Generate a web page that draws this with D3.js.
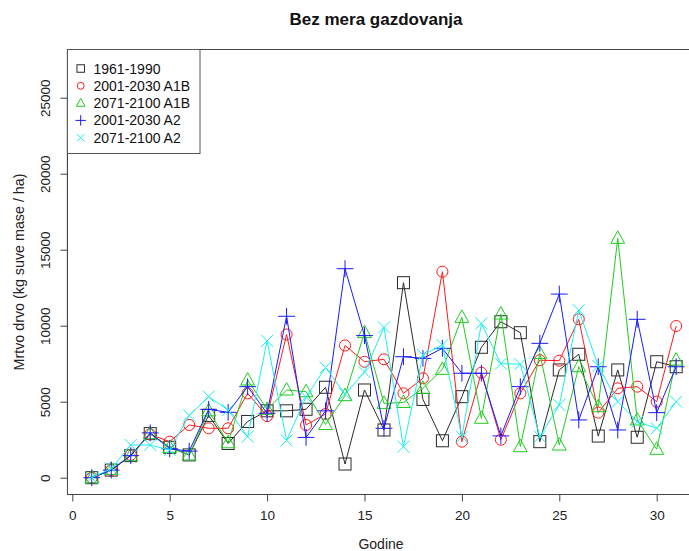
<!DOCTYPE html>
<html><head><meta charset="utf-8">
<script src="https://cdn.jsdelivr.net/npm/d3@7"></script>
<style>body{margin:0;background:#fff}svg{display:block;font-family:"Liberation Sans",Arial,sans-serif}</style>
</head><body>
<svg id="c" width="689" height="551"></svg>
<script>
const years = [1,2,3,4,5,6,7,8,9,10,11,12,13,14,15,16,17,18,19,20,21,22,23,24,25,26,27,28,29,30,31];
const s1961_1990 = [0,500,1450,2900,2000,1500,4100,2250,3700,4400,4400,4500,5950,900,5770,3140,12830,5150,2430,5330,8580,10260,9540,2370,7090,8120,2740,7090,2660,7630,7300];
const s2001_A1B = [0,500,1500,2850,2370,3470,3250,3250,5550,4050,9420,3470,4190,8700,7630,7790,5550,6540,13550,2370,6910,2500,5550,7730,7700,10420,4280,5880,5990,5000,9980];
const s2071_A1B = [0,550,1450,2900,2000,1500,4400,2300,6430,4500,5770,5660,3500,5400,9550,4890,4950,5880,7130,10550,3910,10770,2040,8180,2150,7300,4670,15750,3800,1870,7740];
const s2001_A2 = [0,500,1450,2950,1900,1750,4500,4300,5990,4240,10620,2650,4400,13750,9350,3250,7960,7850,8510,6870,6870,2750,5990,8840,12080,3800,7300,3140,10420,4280,7300];
const s2071_A2 = [0,600,2150,2150,1820,4100,5330,4450,2700,9000,2450,5300,7250,5500,6950,9890,2040,8070,8730,2700,10150,7500,7470,2700,4780,11020,7350,5000,3680,3250,5000];
const seriesNames = ["1961-1990","2001-2030 A1B","2071-2100 A1B","2001-2030 A2","2071-2100 A2"];
const seriesColors = ["#2a2a2a","#ff1a1a","#1fcc1f","#1a1aff","#19f0f0"];
const seriesShapes = ["square","circle","triangle","plus","cross"];
const seriesData = [s1961_1990,s2001_A1B,s2071_A1B,s2001_A2,s2071_A2];
const xTicks = [0,5,10,15,20,25,30];
const yTicks = [0,5000,10000,15000,20000,25000];
const title = "Bez mera gazdovanja";
const xLabel = "Godine";
const yLabel = "Mrtvo drvo (kg suve mase / ha)";

const svg = d3.select("#c");
const x = d3.scaleLinear().domain([0,30]).range([72.3,656.7]);
const y = d3.scaleLinear().domain([0,5000]).range([477.7,401.7]);
const boxL = x(-0.25), boxR = x(32.2), boxT = 49.5, boxB = 494.5;

function sym(g, shape, cx, cy, s){
  if(shape==="square") g.append("rect").attr("x",cx-s/2).attr("y",cy-s/2).attr("width",s).attr("height",s);
  else if(shape==="circle") g.append("circle").attr("cx",cx).attr("cy",cy).attr("r",s*0.46);
  else if(shape==="triangle"){const h=s*1.0; const w=s*1.15;
    g.append("path").attr("d",`M${cx},${cy-h*0.62}L${cx+w/2},${cy+h*0.42}L${cx-w/2},${cy+h*0.42}Z`);}
  else if(shape==="plus"){const a=s*0.7; g.append("path").attr("d",`M${cx-a},${cy}H${cx+a}M${cx},${cy-a}V${cy+a}`);}
  else if(shape==="cross"){const a=s*0.5; g.append("path").attr("d",`M${cx-a},${cy-a}L${cx+a},${cy+a}M${cx-a},${cy+a}L${cx+a},${cy-a}`);}
}

const plot = svg.append("g");
seriesData.forEach((vals,i)=>{
  const g = plot.append("g").attr("fill","none").attr("stroke",seriesColors[i]).attr("stroke-width",1);
  const line = d3.line().x((d,j)=>x(years[j])).y(d=>y(d));
  g.append("path").attr("d",line(vals));
  vals.forEach((v,j)=>sym(g,seriesShapes[i],x(years[j]),y(v),12));
});

// box
svg.append("rect").attr("x",boxL).attr("y",boxT).attr("width",boxR-boxL).attr("height",boxB-boxT)
  .attr("fill","none").attr("stroke","#444").attr("stroke-width",1);

// x axis
const xa = svg.append("g").attr("transform",`translate(0,${boxB})`)
  .call(d3.axisBottom(x).tickValues(xTicks).tickSize(7).tickPadding(9).tickFormat(d3.format("d")));
xa.select(".domain").attr("d",`M${x(0)},0H${x(30)}`).attr("stroke","#444");
xa.selectAll("line").attr("stroke","#444");
xa.selectAll("text").attr("font-size",13.5).attr("fill","#222").attr("font-family","Liberation Sans, Arial, sans-serif");

// y axis
const ya = svg.append("g").attr("transform",`translate(${boxL},0)`)
  .call(d3.axisLeft(y).tickValues(yTicks).tickSize(7).tickFormat(d3.format("d")));
ya.select(".domain").attr("d",`M0,${y(0)}V${y(25000)}`).attr("stroke","#444");
ya.selectAll("line").attr("stroke","#444");
ya.selectAll("text").attr("font-size",13.5).attr("fill","#222").attr("font-family","Liberation Sans, Arial, sans-serif")
  .attr("x",0).attr("dy",null)
  .attr("text-anchor","middle").attr("dominant-baseline","central")
  .attr("transform","translate(-22,0) rotate(-90)");

// titles
svg.append("text").attr("x",376).attr("y",25).attr("text-anchor","middle").attr("font-size",17)
  .attr("font-weight","bold").attr("fill","#111").text(title);
svg.append("text").attr("x",381).attr("y",549).attr("text-anchor","middle").attr("font-size",14)
  .attr("fill","#222").text(xLabel);
svg.append("text").attr("transform",`translate(19,272) rotate(-90)`).attr("text-anchor","middle")
  .attr("dominant-baseline","central").attr("font-size",14.3).attr("fill","#222").text(yLabel);

// legend
const lg = svg.append("g");
lg.append("rect").attr("x",boxL).attr("y",boxT).attr("width",200-boxL).attr("height",153.5-boxT)
  .attr("fill","#fff").attr("stroke","#555").attr("stroke-width",1);
seriesNames.forEach((n,i)=>{
  const cy = 68.5 + 17.3*i;
  const g = lg.append("g").attr("fill","none").attr("stroke",seriesColors[i]).attr("stroke-width",1);
  sym(g,seriesShapes[i],80.7,cy,7.5);
  lg.append("text").attr("x",93.5).attr("y",cy).attr("dominant-baseline","central")
    .attr("font-size",14).attr("fill","#111").text(n);
});
</script>
</body></html>
